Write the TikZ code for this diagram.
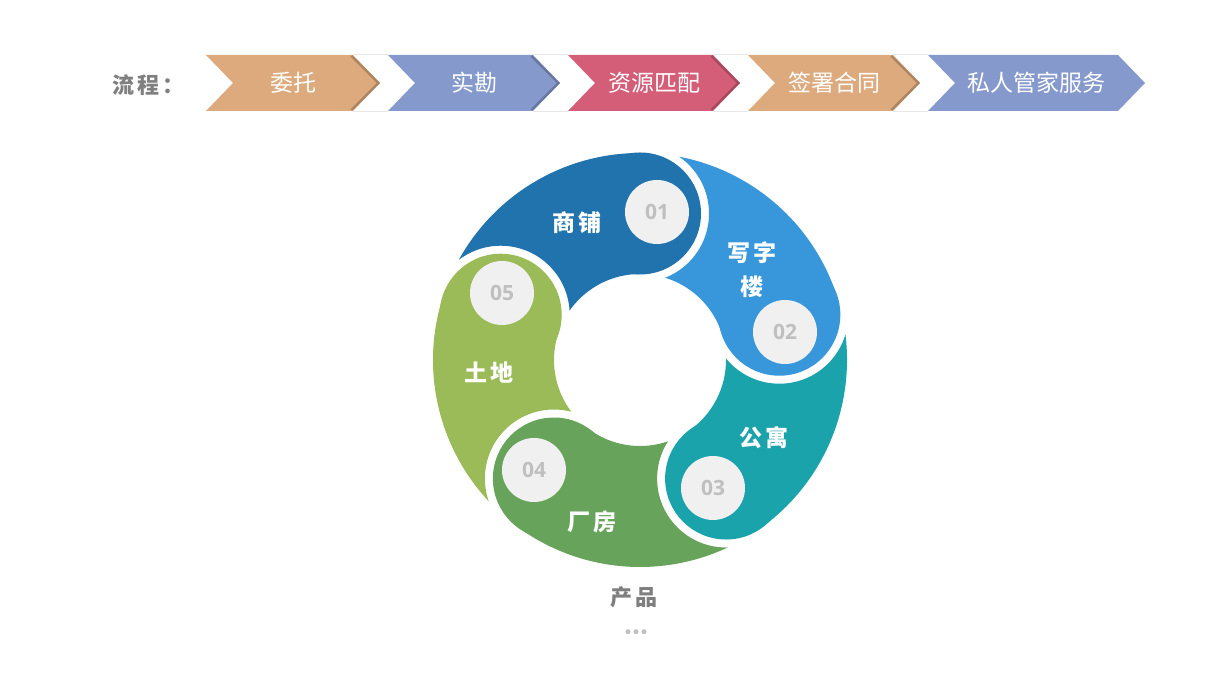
\documentclass[tikz,border=0pt]{standalone}
\usepackage{fontspec}
\setmainfont{Open Sans}
\newfontfamily\cjk{Noto Sans CJK SC}
\usetikzlibrary{calc}
\definecolor{ctan}{RGB}{221,170,126}
\definecolor{cblue}{RGB}{134,153,204}
\definecolor{cpink}{RGB}{212,94,120}
\definecolor{segA}{RGB}{33,115,174}
\definecolor{segB}{RGB}{55,151,218}
\definecolor{segC}{RGB}{27,163,171}
\definecolor{segD}{RGB}{104,163,91}
\definecolor{segE}{RGB}{155,187,89}
\definecolor{badgefill}{RGB}{240,240,240}
\definecolor{badgetext}{RGB}{191,191,191}
\definecolor{greytext}{RGB}{127,127,127}
\tikzset{
  chevtxt/.style={text=white, inner sep=0, font=\cjk\fontsize{23}{23}\selectfont},
  seglabel/.style={text=white, inner sep=0, font=\cjk\bfseries\fontsize{23}{23}\selectfont},
  badge/.style={circle, fill=badgefill, minimum size=64pt, inner sep=0, text=badgetext, font=\bfseries\fontsize{21}{21}\selectfont},
  greylabel/.style={text=greytext, inner sep=0, font=\cjk\bfseries\fontsize{22}{22}\selectfont},
  dotmark/.style={circle, fill=badgetext, minimum size=5pt, inner sep=0}
}
\begin{document}
\begin{tikzpicture}[x=1pt,y=1pt]
\useasboundingbox (0,0) rectangle (1231,692);
\fill[white] (0,0) rectangle (1231,692);
% title
\node[greylabel, anchor=west] (title) at (112,607) {流\hspace{3pt}程\hspace{3pt}：};
% chevrons
\foreach \L/\R/\c/\t/\n/\N in {206/380/ctan/委托/ch1/388, 388/560/cblue/实勘/ch2/568, 568/740/cpink/资源匹配/ch3/748, 748/920/ctan/签署合同/ch4/928}{
  \draw[black!9, line width=1] ({\R-27},637.5) -- (\N,637.5);
  \draw[black!9, line width=1] ({\R-27},580.5) -- (\N,580.5);
  \fill[\c] (\L,637) -- ({\R-27},637) -- (\R,609) -- ({\R-27},581) -- (\L,581) -- ({\L+27},609) -- cycle;
  \draw[\c!60!black, line width=2.2, opacity=.55] ({\R-28.5},636) -- ({\R-1.5},609) -- ({\R-28.5},582);
  \node[chevtxt] (\n) at ({(\L+\R)/2},609) {\t};
}
\fill[cblue] (928,637) -- (1118,637) -- (1145,609) -- (1118,581) -- (928,581) -- (955,609) -- cycle;
\node[chevtxt] (ch5) at (1036.5,609) {私人管家服务};
% ring
\coordinate (ctr) at (640,332);
\foreach \h/\c in {90/segA, 18/segB, -54/segC, -126/segD, 162/segE}{
  \begin{scope}
    \clip (-100,-100) -- (-100,800) -- (1400,800) -- (1400,-100) -- cycle
          ($(ctr)+(\h+72:146.5)$) circle (69);
    \fill[\c] ($(ctr)+(\h:207)$) arc[start angle=\h, end angle=\h+72, radius=207]
          -- ($(ctr)+(\h+72:86)$) arc[start angle=\h+72, end angle=\h, radius=86] -- cycle;
    \fill[\c] ($(ctr)+(\h:146.5)$) circle (61);
  \end{scope}
}
% badges
\node[badge] (b1) at (657,480) {01};
\node[badge] (b2) at (785,360) {02};
\node[badge] (b3) at (713,204) {03};
\node[badge] (b4) at (534,222) {04};
\node[badge] (b5) at (502,399) {05};
% labels
\node[seglabel] (l1) at (577,469) {商\hspace{3pt}铺};
\node[seglabel] (l2) at (752,439) {写\hspace{3pt}字};
\node[seglabel] (l3) at (752,405) {楼};
\node[seglabel] (l4) at (764,254) {公\hspace{3pt}寓};
\node[seglabel] (l5) at (592,170) {厂\hspace{3pt}房};
\node[seglabel] (l6) at (489,319) {土\hspace{3pt}地};
% bottom
\node[greylabel] (prod) at (634,95) {产\hspace{3pt}品};
\node[dotmark] (d1) at (628,60.3) {};
\node[dotmark] (d2) at (636,60.3) {};
\node[dotmark] (d3) at (644,60.3) {};
\end{tikzpicture}
\end{document}
